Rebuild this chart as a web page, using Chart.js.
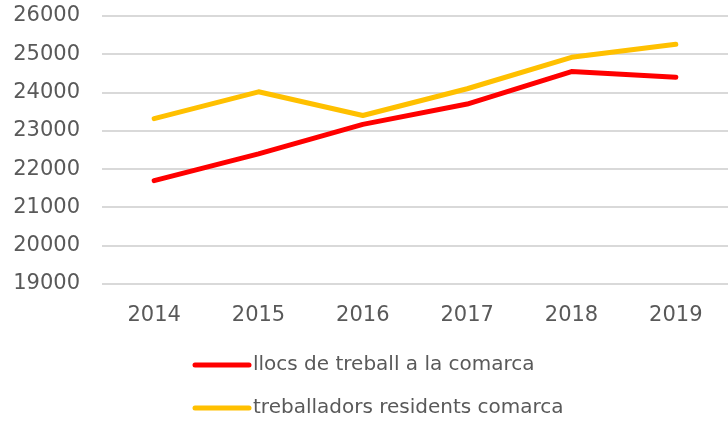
<!DOCTYPE html>
<html>
<head>
<meta charset="utf-8">
<script src="https://cdn.jsdelivr.net/npm/chart.js@4/dist/chart.umd.min.js"></script>
<style>
html, body { margin: 0; padding: 0; background: #fff; }
#wrap { width: 728px; height: 422px; }
</style>
</head>
<body>
<div id="wrap"><canvas id="myChart" width="728" height="422"></canvas></div>
<script>
var years = ["2014", "2015", "2016", "2017", "2018", "2019"];
var llocsTreball = [21700, 22400, 23170, 23700, 24550, 24400];
var treballadorsResidents = [23320, 24020, 23400, 24100, 24920, 25260];
var seriesNames = ["llocs de treball a la comarca", "treballadors residents comarca"];
var yTicks = [19000, 20000, 21000, 22000, 23000, 24000, 25000, 26000];

var textColor = "#595959";
var fontFamily = "'DejaVu Sans', sans-serif";

function lineDataset(name, data, color)
{
	return {
		label: name,
		data: data,
		borderColor: color,
		backgroundColor: color,
		borderWidth: 5,
		borderCapStyle: "round",
		borderJoinStyle: "round",
		pointRadius: 0,
		tension: 0,
		fill: false
	};
}

// legend stacked in one column under the axis
var stackedLegend = {
	id: "stackedLegend",
	afterDraw: function(chart){
		var ctx = chart.ctx;
		var x = 193, y = 365, rowGap = 43;
		ctx.save();
		ctx.font = "20px " + fontFamily;
		ctx.textBaseline = "middle";
		chart.data.datasets.forEach(function(ds, i){
			var yy = y + i * rowGap;
			ctx.strokeStyle = ds.borderColor;
			ctx.lineWidth = 5;
			ctx.lineCap = "round";
			ctx.beginPath();
			ctx.moveTo(x + 2, yy);
			ctx.lineTo(x + 56, yy);
			ctx.stroke();
			ctx.fillStyle = textColor;
			ctx.fillText(ds.label, x + 60, yy);
		});
		ctx.restore();
	}
};

var ctx = document.getElementById("myChart");
var mChart = new Chart(ctx, {
	type: "line",
	data: {
		labels: years,
		datasets: [
			lineDataset(seriesNames[0], llocsTreball, "#ff0000"),
			lineDataset(seriesNames[1], treballadorsResidents, "#ffc000")
		]
	},
	options: {
		responsive: false,
		animation: false,
		layout: { padding: { top: 16, right: 0, bottom: 82, left: 0 } },
		plugins: {
			legend: { display: false },
			tooltip: { enabled: false }
		},
		scales: {
			x: {
				offset: true,
				grid: { display: false },
				border: { display: false },
				ticks: { color: textColor, font: { family: fontFamily, size: 21 }, padding: 11 },
				afterFit: function(s){ s.height = 56; }
			},
			y: {
				min: 19000,
				max: 26000,
				afterBuildTicks: function(s){ s.ticks = yTicks.map(function(v){ return { value: v }; }); },
				grid: { color: "#d9d9d9", lineWidth: 2, drawTicks: false },
				border: { display: false },
				ticks: {
					color: textColor,
					font: { family: fontFamily, size: 21 },
					padding: 22,
					callback: function(v){ return String(v); }
				},
				afterFit: function(s){
					s.width = 102;
					s.paddingTop = 0;
					s.paddingBottom = 0;
				}
			}
		}
	},
	plugins: [stackedLegend]
});
</script>
</body>
</html>
